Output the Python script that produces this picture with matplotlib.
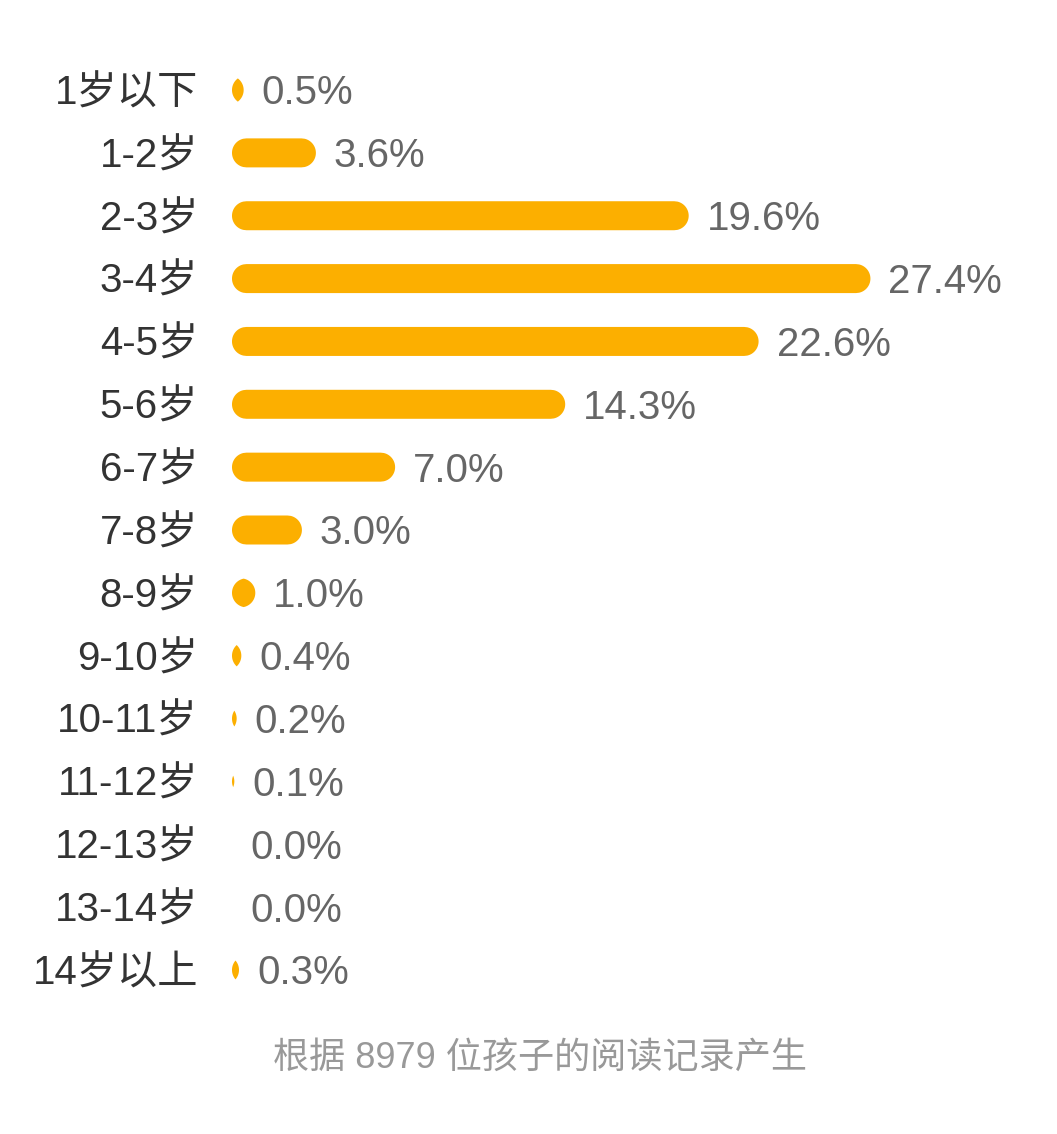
import numpy as np
import matplotlib
matplotlib.use('Agg')
import matplotlib.pyplot as plt
from matplotlib.patches import Polygon

plt.rcParams['font.family'] = ['Liberation Sans', 'Noto Sans CJK SC', 'DejaVu Sans']

# data
ages = ['1岁以下', '1-2岁', '2-3岁', '3-4岁', '4-5岁', '5-6岁', '6-7岁', '7-8岁',
        '8-9岁', '9-10岁', '10-11岁', '11-12岁', '12-13岁', '13-14岁', '14岁以上']
share = [0.5, 3.6, 19.6, 27.4, 22.6, 14.3, 7.0, 3.0,
         1.0, 0.4, 0.2, 0.1, 0.0, 0.0, 0.3]
note = '根据 8979 位孩子的阅读记录产生'

BAR = '#FCAF00'
W, H = 1057, 1134
FS = 29

fig = plt.figure(figsize=(W / 100, H / 100), dpi=100)
fig.patch.set_facecolor('white')
# axes placed in pixel terms: bars start at x=232, rows 90..970 px
x_max = 33
left, right = 232, 232 + 23.3 * x_max
top, bottom = 90 - 31.4, 970 + 31.4
ax = fig.add_axes([left / W, 1 - bottom / H, (right - left) / W, (bottom - top) / H])
ax.set_xlim(0, x_max)
ax.set_ylim(len(ages) - 0.5, -0.5)
ax.axis('off')

# pixel size of one data unit, to keep round caps circular
p0 = ax.transData.transform((0, 0))
p1 = ax.transData.transform((1, 1))
px_x = abs(p1[0] - p0[0])
px_y = abs(p1[1] - p0[1])
r = 14.5  # half bar height in px

# shift baseline so that cap height sits centred on the bar
dy = -0.716 * FS / 2

for i, v in enumerate(share):
    w = v * px_x
    if w > 0:
        # capsule, or a lens when the bar is shorter than its height
        ymax = r if w >= 2 * r else np.sqrt(r ** 2 - (r - w / 2) ** 2)
        ys = np.linspace(-ymax, ymax, 80)
        s = np.sqrt(np.clip(r ** 2 - ys ** 2, 0, None))
        xl = np.maximum(r - s, 0)
        xr = np.minimum(w - r + s, w)
        xs = np.concatenate([xr, xl[::-1]]) / px_x
        yy = i + np.concatenate([ys, ys[::-1]]) / px_y
        ax.add_patch(Polygon(np.column_stack([xs, yy]), closed=True,
                             facecolor=BAR, edgecolor='none'))
    ax.annotate(ages[i], xy=(0, i), xytext=(-34 * 0.72, dy), textcoords='offset points',
                ha='right', va='baseline', fontsize=FS, color='#333333')
    ax.annotate(f'{v:.1f}%', xy=(v, i), xytext=(18 * 0.72, dy), textcoords='offset points',
                ha='left', va='baseline', fontsize=FS, color='#666666')

fig.text(540 / W, 1 - 1058 / H, note, ha='center', va='center', fontsize=26, color='#999999')

fig.savefig('out.png', dpi=100, facecolor='white')
